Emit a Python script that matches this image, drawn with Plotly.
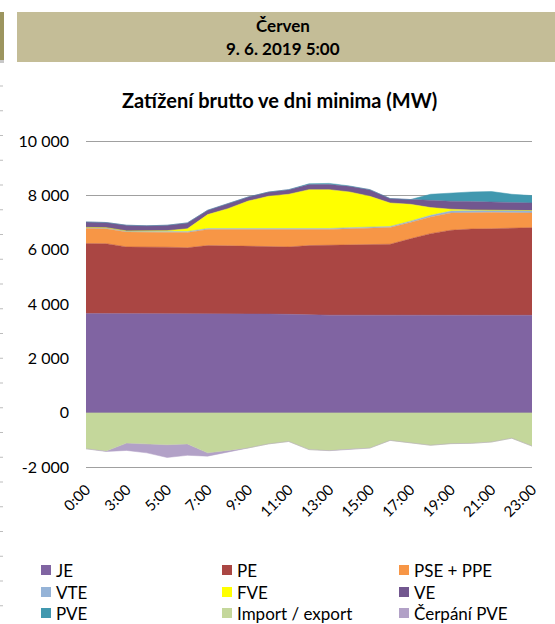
import plotly.graph_objects as go

# Hourly categories of the day (every other one is labelled)
hours = ["0:00", "2:00"] + [f"{h}:00" for h in range(3, 24)]

# Generation sources stacked above zero (MW)
je = [3650, 3650, 3645, 3640, 3640, 3640, 3640, 3640, 3635, 3630, 3620, 3600,
      3590, 3590, 3590, 3590, 3585, 3580, 3580, 3580, 3585, 3585, 3585]
pe = [2575, 2570, 2455, 2460, 2450, 2430, 2510, 2500, 2485, 2470, 2480, 2550,
      2570, 2580, 2590, 2610, 2815, 3010, 3135, 3180, 3185, 3205, 3225]
pse_ppe = [555, 550, 550, 550, 550, 560, 590, 600, 610, 615, 615, 570,
           580, 600, 620, 615, 600, 615, 635, 610, 600, 570, 540]
vte = [40, 40, 40, 40, 40, 40, 40, 40, 40, 40, 40, 40,
       40, 40, 40, 40, 50, 60, 70, 80, 90, 90, 90]
fve = [0, 0, 0, 0, 20, 100, 510, 730, 1020, 1210, 1285, 1450,
       1430, 1315, 1125, 865, 620, 285, 70, 10, 0, 0, 0]
ve = [200, 190, 210, 190, 200, 215, 160, 190, 150, 155, 170, 190,
      190, 205, 245, 160, 175, 270, 292, 310, 297, 290, 280]
pve = [0, 0, 0, 0, 0, 0, 0, 0, 0, 0, 0, 25,
       40, 15, 0, 0, 0, 220, 306, 355, 383, 300, 270]

# Flows stacked below zero (MW)
import_export = [-1330, -1410, -1120, -1140, -1180, -1150, -1480, -1390, -1300, -1150, -1060, -1360,
                 -1390, -1340, -1300, -1020, -1100, -1200, -1140, -1130, -1080, -940, -1230]
cerpani_pve = [0, -20, -270, -340, -470, -420, -120, -60, 0, 0, 0, 0,
               -10, -20, -5, 0, 0, 0, 0, 0, 0, 0, 0]

series_names = ["JE", "PE", "PSE + PPE", "VTE", "FVE", "VE", "PVE",
                "Import / export", "Čerpání PVE"]
series_values = [je, pe, pse_ppe, vte, fve, ve, pve, import_export, cerpani_pve]
series_colors = ["#8064A2", "#AA4643", "#F79646", "#95B3D7", "#FFFF00",
                 "#72578F", "#4198AF", "#C4D79B", "#B2A1C7"]
series_groups = ["up"] * 7 + ["down"] * 2

y_tick_vals = [-2000, 0, 2000, 4000, 6000, 8000, 10000]
y_tick_text = ["-2 000", "0", "2 000", "4 000", "6 000", "8 000", "10 000"]
x_tick_vals = hours[::2]

title_text = "Zatížení brutto ve dni minima (MW)"
header_month = "Červen"
header_date = "9. 6. 2019 5:00"

W, H = 555, 624
L, R, T, B = 86, 23, 138, 157
PW, PH = W - L - R, H - T - B
FONT = "Lato"
GRID = "#A0A0A0"
# 12 000 MW span over 326 px; a little headroom above 10 000 keeps its gridline
Y_MIN = -2000
Y_MAX = Y_MIN + 12000 * PH / 326


def px(x):
    return (x - L) / PW


def py(y):
    return (H - B - y) / PH


fig = go.Figure()
for name, vals, color, grp in zip(series_names, series_values, series_colors, series_groups):
    fig.add_trace(go.Scatter(
        x=hours, y=vals, name=name, stackgroup=grp, mode="lines",
        line=dict(width=0.5, color=color), fillcolor=color, showlegend=False,
    ))

shapes = []
annotations = []

# Banner above the chart
shapes.append(dict(type="rect", xref="paper", yref="paper", layer="below",
                   x0=px(17), x1=px(556), y0=py(62), y1=py(12),
                   fillcolor="#C4BD97", line=dict(width=0)))
shapes.append(dict(type="rect", xref="paper", yref="paper", layer="below",
                   x0=px(0), x1=px(4), y0=py(60), y1=py(12),
                   fillcolor="#9C955F", line=dict(width=0)))
shapes.append(dict(type="rect", xref="paper", yref="paper", layer="below",
                   x0=px(0), x1=px(4), y0=py(63), y1=py(60),
                   fillcolor="#C8C8C8", line=dict(width=0)))
annotations.append(dict(text=f"<b>{header_month}</b>", xref="paper", yref="paper",
                        x=px(283), y=py(25), xanchor="center", yanchor="middle",
                        showarrow=False, font=dict(family=FONT, size=17, color="#000000")))
annotations.append(dict(text=f"<b>{header_date}</b>", xref="paper", yref="paper",
                        x=px(283), y=py(48), xanchor="center", yanchor="middle",
                        showarrow=False, font=dict(family=FONT, size=17, color="#000000")))

# Faint sheet gridline marks along the left edge
for i in range(22):
    yy = 86 + 24.75 * i
    shapes.append(dict(type="line", xref="paper", yref="paper", layer="below",
                       x0=px(0), x1=px(3), y0=py(yy), y1=py(yy),
                       line=dict(color="#BDBDBD", width=1)))

# Chart title
annotations.append(dict(text=f"<b>{title_text}</b>", xref="paper", yref="paper",
                        x=px(279), y=py(100), xanchor="center", yanchor="middle",
                        showarrow=False, font=dict(family=FONT, size=20, color="#000000")))

# Legend: three columns, three rows
col_x = [41, 222, 399]
row_y = [570, 592, 613]
for i, (name, color) in enumerate(zip(series_names, series_colors)):
    cx = col_x[i % 3]
    cy = row_y[i // 3]
    shapes.append(dict(type="rect", xref="paper", yref="paper",
                       x0=px(cx), x1=px(cx + 10), y0=py(cy + 5), y1=py(cy - 5),
                       fillcolor=color, line=dict(width=0)))
    annotations.append(dict(text=name, xref="paper", yref="paper",
                            x=px(cx + 13), y=py(cy), xanchor="left", yanchor="middle",
                            showarrow=False,
                            font=dict(family=FONT, size=17, color="#000000")))

fig.update_layout(
    width=W, height=H,
    margin=dict(l=L, r=R, t=T, b=B, pad=0),
    paper_bgcolor="#FFFFFF", plot_bgcolor="#FFFFFF",
    font=dict(family=FONT, color="#000000"),
    showlegend=False,
    shapes=shapes, annotations=annotations,
    xaxis=dict(
        type="category", range=[0, len(hours) - 1],
        tickmode="array", tickvals=x_tick_vals, ticktext=x_tick_vals,
        tickangle=-45, tickfont=dict(family=FONT, size=15, color="#000000"),
        showgrid=False, zeroline=False, showline=True,
        linecolor=GRID, linewidth=1, ticks="", ticklabelstandoff=7,
    ),
    yaxis=dict(
        range=[Y_MIN, Y_MAX], tickmode="array",
        tickvals=y_tick_vals, ticktext=y_tick_text,
        tickfont=dict(family=FONT, size=16, color="#000000"),
        showgrid=True, gridcolor=GRID, gridwidth=1,
        zeroline=False, showline=False, ticks="", ticklabelstandoff=16,
    ),
)

fig.write_html("out.html")
